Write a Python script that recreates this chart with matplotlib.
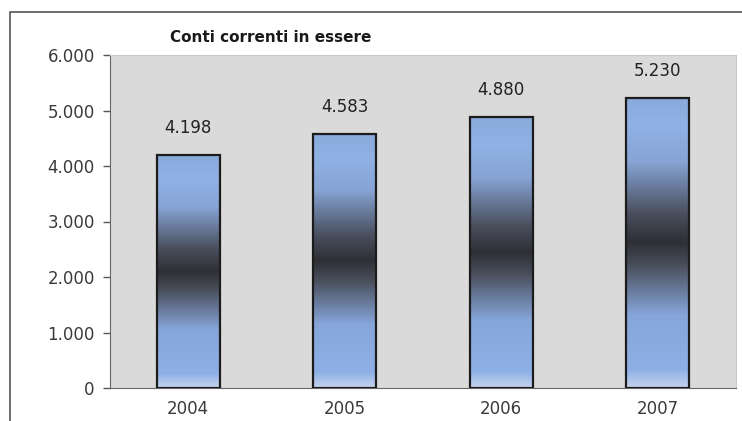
import matplotlib
matplotlib.use("Agg")
import matplotlib.pyplot as plt
from matplotlib.colors import LinearSegmentedColormap
from matplotlib.patches import Rectangle
import numpy as np

anni = ['2004', '2005', '2006', '2007']
conti = [4198, 4583, 4880, 5230]
y_ticks = [0, 1000, 2000, 3000, 4000, 5000, 6000]

def fmt(v):
    return f"{v:,}".replace(',', '.')

fig = plt.figure(figsize=(7.42, 4.21), dpi=100)
fig.patch.set_facecolor('white')

# outer chart frame (cut at right/bottom like the scan)
fig.patches.append(Rectangle((10 / 742, -0.1), 1.2, (421 - 12) / 421 + 0.1,
                             transform=fig.transFigure, fill=False,
                             edgecolor='#555555', linewidth=1.2))

ax = fig.add_axes([110 / 742, 1 - 388 / 421, (736 - 110) / 742, (388 - 55) / 421])
ax.set_facecolor('#dadada')

x = np.arange(len(anni))
bars = ax.bar(x, conti, width=0.4, facecolor='none', edgecolor='#1c1c1c',
              linewidth=1.6, zorder=3)

# vertical gradient: blue top, dark middle, blue bottom
cmap = LinearSegmentedColormap.from_list(
    'grad', [(0.0, '#c6d4ee'), (0.06, '#8eb0e6'), (0.25, '#86a6da'),
             (0.42, '#4a4f5c'), (0.5, '#2e2f35'), (0.6, '#4a4f5e'),
             (0.78, '#87a5d6'), (0.9, '#90b1e4'), (1.0, '#8aaadc')])
grad = np.linspace(0, 1, 256).reshape(-1, 1)
for b in bars:
    x0 = b.get_x()
    w = b.get_width()
    h = b.get_height()
    im = ax.imshow(grad, cmap=cmap, extent=[x0, x0 + w, 0, h], origin='lower',
                   aspect='auto', zorder=2, interpolation='bicubic')
    im.set_clip_path(b)
    ax.annotate(fmt(h), (x0 + w / 2, h), xytext=(0, 13), textcoords='offset points',
                ha='center', va='bottom', fontsize=12, color='#222222')

ax.set_xlim(-0.5, len(anni) - 0.5)
ax.set_ylim(0, 6000)
ax.set_yticks(y_ticks)
ax.set_yticklabels([fmt(t) for t in y_ticks], fontsize=12, color='#3a3a3a')
ax.set_xticks(x)
ax.set_xticklabels(anni, fontsize=12, color='#3a3a3a')
ax.tick_params(axis='x', length=0, pad=9)
ax.tick_params(axis='y', length=5, width=1, color='#555555', pad=6)

for s in ['top', 'right']:
    ax.spines[s].set_color('#c8c8c8')
    ax.spines[s].set_linewidth(0.8)
ax.spines['left'].set_color('#666666')
ax.spines['bottom'].set_color('#666666')

fig.text(271 / 742, 1 - 37 / 421, 'Conti correnti in essere', fontsize=11,
         fontweight='bold', color='#1a1a1a', ha='center', va='center')

fig.savefig('out.png', dpi=100)
